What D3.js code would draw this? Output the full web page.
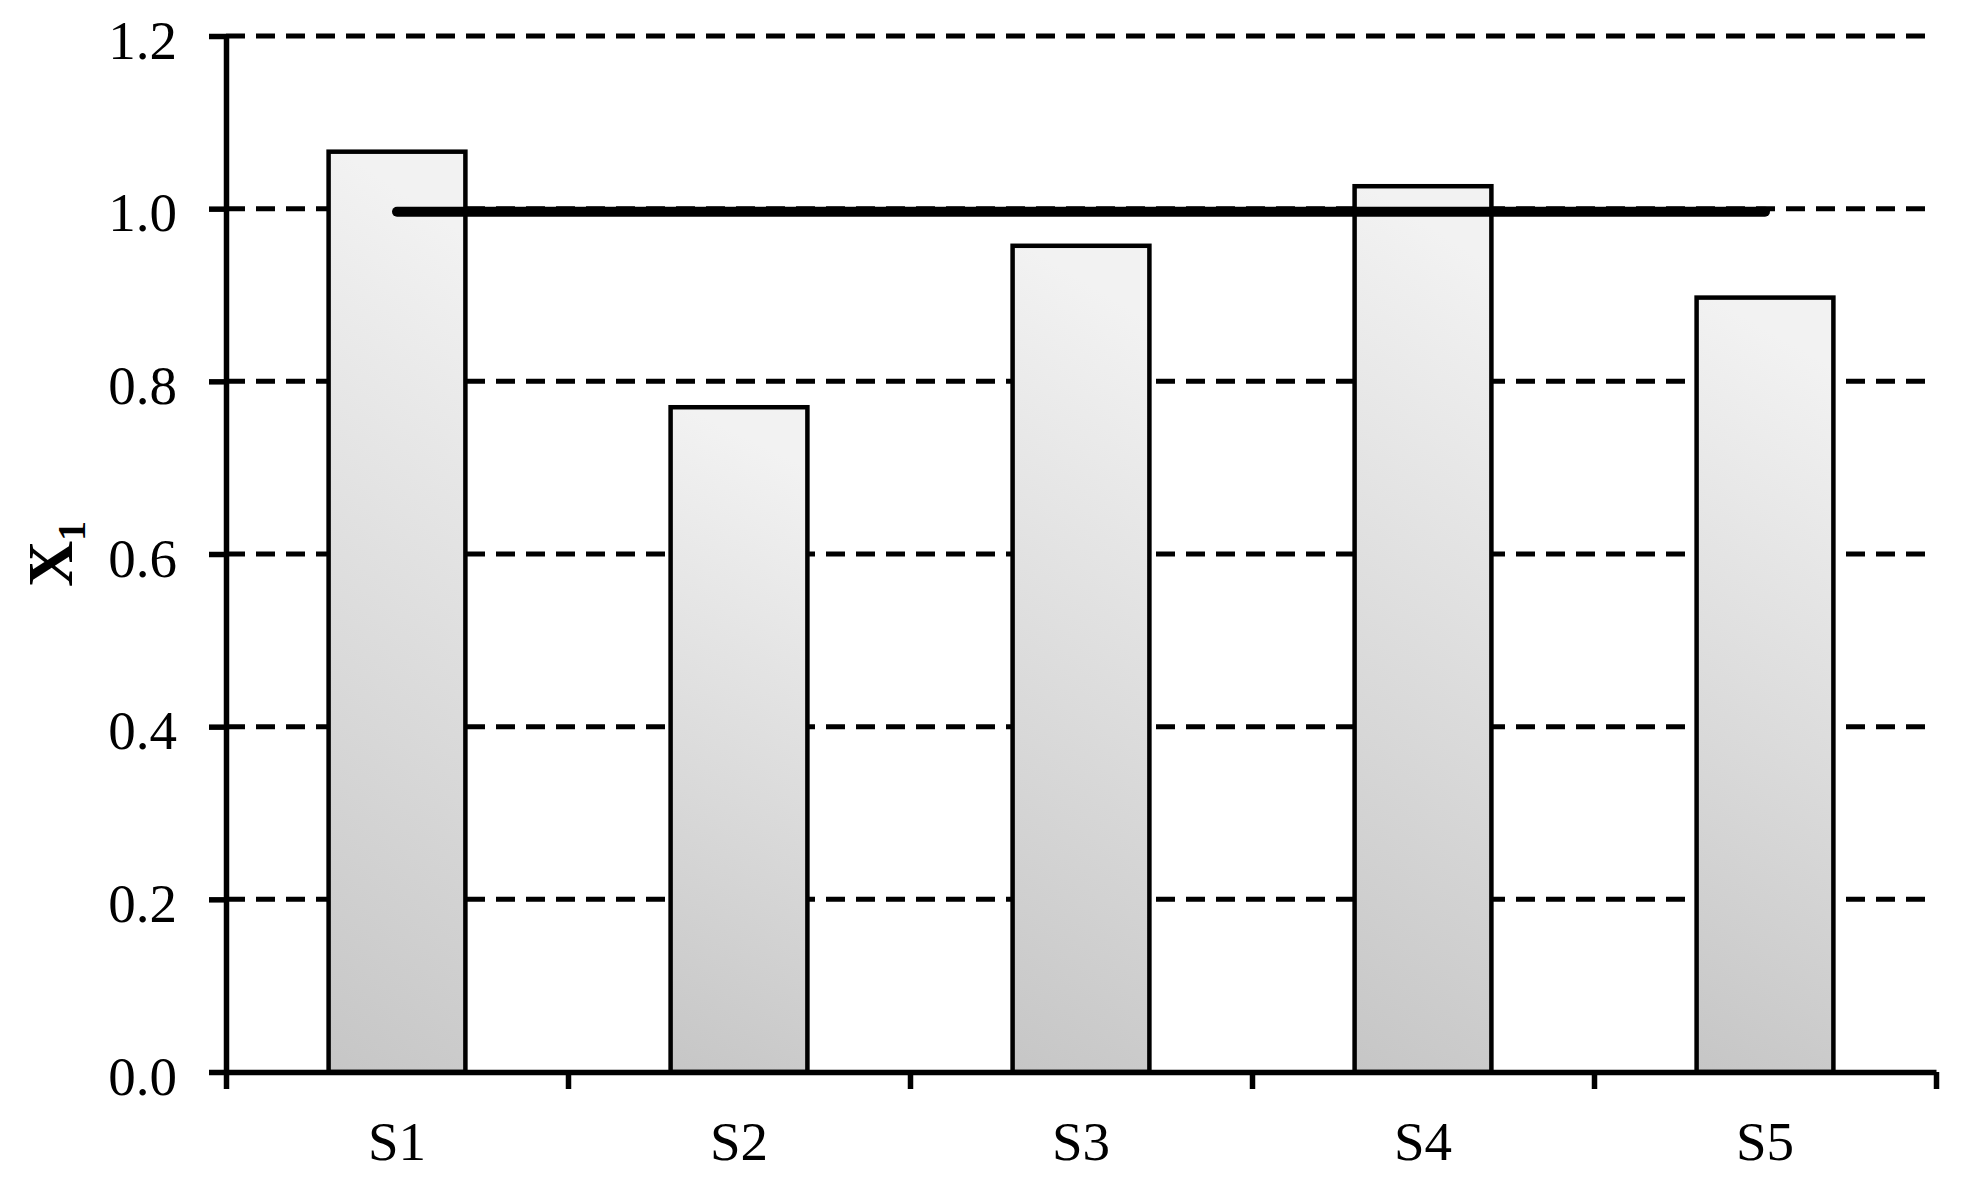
<!DOCTYPE html>
<html>
<head>
<meta charset="utf-8">
<script src="https://cdn.jsdelivr.net/npm/d3@7"></script>
<style>
  body { margin: 0; background: #fff; }
  text { font-family: "Liberation Serif", "Times New Roman", serif; }
</style>
</head>
<body>
<svg id="ch" width="1961" height="1187"></svg>
<script>
// X1 per sample, bars + reference line at 1.0

const categories = ["S1", "S2", "S3", "S4", "S5"];
const values = [1.066, 0.770, 0.957, 1.026, 0.897];
const refValues = [1.0, 1.0, 1.0, 1.0, 1.0];
const yTicks = [0.0, 0.2, 0.4, 0.6, 0.8, 1.0, 1.2];

const W = 1961, H = 1187;
const mLeft = 226, mRight = 1936, mTop = 36, mBottom = 1072;

const svg = d3.select("#ch");
svg.append("rect").attr("width", W).attr("height", H).attr("fill", "#fff");

/* gradient for bars */
const grad = svg.append("defs").append("linearGradient")
  .attr("id", "barGrad")
  .attr("x1", "0.1").attr("y1", "0")
  .attr("x2", "0").attr("y2", "1");
grad.append("stop").attr("offset", "0%").attr("stop-color", "#f2f2f2");
grad.append("stop").attr("offset", "100%").attr("stop-color", "#c6c6c6");

/* scales */
const y = d3.scaleLinear().domain([0, 1.2]).range([mBottom, mTop]);
const x = d3.scaleBand()
  .domain(categories)
  .range([mLeft, mRight])
  .paddingInner(0.6)
  .paddingOuter(0.3);
const xEdge = d3.scaleLinear().domain([0, categories.length]).range([mLeft, mRight]);

/* dashed gridlines */
svg.append("g")
  .selectAll("line")
  .data(yTicks.filter(d => d > 0))
  .enter()
  .append("line")
  .attr("x1", mLeft)
  .attr("x2", mRight)
  .attr("y1", d => y(d))
  .attr("y2", d => y(d))
  .attr("stroke", "#000")
  .attr("stroke-width", 5)
  .attr("stroke-dasharray", "19,11");

/* bars */
svg.append("g")
  .selectAll("rect")
  .data(values)
  .enter()
  .append("rect")
  .attr("x", (d, i) => x(categories[i]))
  .attr("y", d => y(d))
  .attr("width", x.bandwidth())
  .attr("height", d => mBottom - y(d))
  .attr("fill", "url(#barGrad)")
  .attr("stroke", "#000")
  .attr("stroke-width", 4.5);

/* reference line */
const line = d3.line()
  .x((d, i) => x(categories[i]) + x.bandwidth() / 2)
  .y(d => y(d) + 3);

svg.append("path")
  .datum(refValues)
  .attr("d", line)
  .attr("fill", "none")
  .attr("stroke", "#000")
  .attr("stroke-width", 10)
  .attr("stroke-linecap", "round");

/* Y axis */
const yAxis = svg.append("g")
  .attr("transform", `translate(${mLeft},0)`)
  .call(d3.axisLeft(y)
    .tickValues(yTicks)
    .tickFormat(d3.format(".1f"))
    .tickSize(17)
    .tickSizeOuter(0)
    .tickPadding(32));
yAxis.select(".domain").attr("stroke-width", 5.5);
yAxis.selectAll(".tick line").attr("stroke-width", 5.5);
yAxis.selectAll("text")
  .attr("font-size", 55)
  .attr("fill", "#000")
  .attr("dy", "0.4em")
  .style("font-family", "'Liberation Serif', 'Times New Roman', serif");

/* X axis - ticks at category edges */
const xAxis = svg.append("g")
  .attr("transform", `translate(0,${mBottom})`)
  .call(d3.axisBottom(xEdge)
    .ticks(categories.length)
    .tickFormat("")
    .tickSize(17)
    .tickSizeOuter(0));
xAxis.select(".domain").attr("stroke-width", 5.5);
xAxis.selectAll(".tick line").attr("stroke-width", 5.5);

/* X labels */
const xLab = svg.append("g")
  .attr("transform", `translate(0,${mBottom})`)
  .call(d3.axisBottom(x).tickSize(0));
xLab.select(".domain").remove();
xLab.selectAll("text")
  .attr("font-size", 55)
  .attr("fill", "#000")
  .attr("y", 88)
  .attr("dy", 0)
  .style("font-family", "'Liberation Serif', 'Times New Roman', serif");

/* Y label X1 */
const yl = svg.append("text")
  .attr("transform", `translate(72,${(mTop + mBottom) / 2}) rotate(-90)`)
  .attr("text-anchor", "middle")
  .attr("fill", "#000");
yl.append("tspan").attr("font-size", 64).attr("font-weight", "bold").text("X");
yl.append("tspan").attr("font-size", 40).attr("font-weight", "bold").attr("dy", 13).text("1");
</script>
</body>
</html>
